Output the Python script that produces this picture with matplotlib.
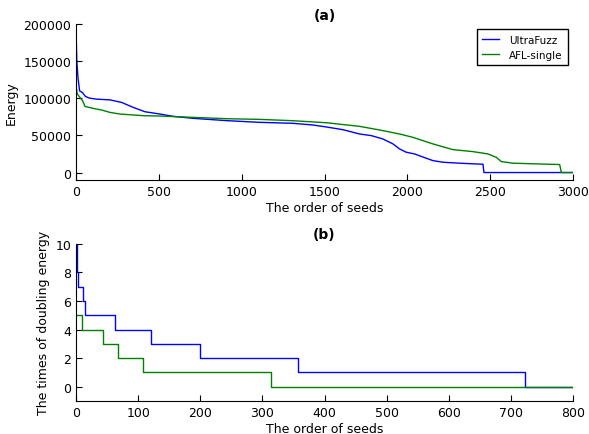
import matplotlib
matplotlib.use("Agg")
import matplotlib.pyplot as plt

# (a) energy per seed
ultra_x = [0, 5, 12, 22, 38, 57, 80, 123, 205, 275, 345, 416, 506, 586, 707, 908,
           1108, 1309, 1430, 1510, 1611, 1711, 1782, 1852, 1913, 1953, 1993, 2043,
           2114, 2154, 2215, 2315, 2456, 2462, 3000]
ultra_y = [195000, 150000, 128000, 110000, 108000, 102700, 100400, 99000, 98000, 94600,
           87900, 82000, 78900, 75800, 73100, 70000, 67700, 66400, 64100, 61500, 57800,
           52000, 49800, 45300, 38600, 31800, 27400, 25100, 19300, 16100, 13900, 12600,
           11200, 0, 0]

afl_x = [0, 8, 24, 40, 54, 104, 155, 205, 265, 406, 506, 707, 908, 1108, 1309, 1510,
         1711, 1832, 1953, 2033, 2154, 2275, 2396, 2486, 2536, 2567, 2637, 2919, 2929, 3000]
afl_y = [117000, 105800, 101300, 96900, 89200, 86500, 84300, 81100, 78900, 76700, 76200,
         74400, 72600, 71700, 69900, 67200, 62300, 57400, 52000, 47500, 38600, 30900,
         28200, 25100, 20600, 14800, 12600, 10800, 0, 0]

# (b) times of doubling energy, step change points
ultra_step_x = [0, 1, 3, 11, 14, 63, 120, 199, 357, 722, 800]
ultra_step_y = [10, 8, 7, 6, 5, 4, 3, 2, 1, 0, 0]
afl_step_x = [0, 10, 44, 68, 108, 314, 800]
afl_step_y = [5, 4, 3, 2, 1, 0, 0]

plt.rcParams["font.size"] = 9

fig = plt.figure(figsize=(5.89, 4.35), dpi=100)
ax1 = fig.add_axes([0.129, 0.584, 0.844, 0.358])
ax2 = fig.add_axes([0.129, 0.076, 0.844, 0.361])


def style(ax):
    ax.spines["top"].set_visible(False)
    ax.spines["right"].set_visible(False)
    ax.tick_params(direction="in", length=4, top=False, right=False, labelsize=9)


ax1.plot(ultra_x, ultra_y, color="#0000ff", lw=1, label="UltraFuzz")
ax1.plot(afl_x, afl_y, color="#008000", lw=1, label="AFL-single")
ax1.set_xlim(0, 3000)
ax1.set_ylim(-10000, 200000)
ax1.set_yticks([0, 50000, 100000, 150000, 200000])
ax1.set_xticks([0, 500, 1000, 1500, 2000, 2500, 3000])
ax1.set_xlabel("The order of seeds", fontsize=9, labelpad=2)
ax1.set_ylabel("Energy", fontsize=9)
ax1.set_title("(a)", fontsize=10, fontweight="bold", pad=4)
leg = ax1.legend(loc="upper right", fontsize=7.5, fancybox=False, framealpha=1,
                 borderpad=0.5, handlelength=1.6, handletextpad=1.0,
                 bbox_to_anchor=(1.0, 1.0))
leg.get_frame().set_edgecolor("black")
style(ax1)

ax2.plot(ultra_step_x, ultra_step_y, color="#0000ff", lw=1, drawstyle="steps-post")
ax2.plot(afl_step_x, afl_step_y, color="#008000", lw=1, drawstyle="steps-post")
ax2.set_xlim(0, 800)
ax2.set_ylim(-1, 10)
ax2.set_yticks([0, 2, 4, 6, 8, 10])
ax2.set_xticks(range(0, 801, 100))
ax2.set_xlabel("The order of seeds", fontsize=9, labelpad=2)
ax2.set_ylabel("The times of doubling energy", fontsize=9)
ax2.set_title("(b)", fontsize=10, fontweight="bold", pad=4)
style(ax2)

fig.savefig("out.png", dpi=100)
